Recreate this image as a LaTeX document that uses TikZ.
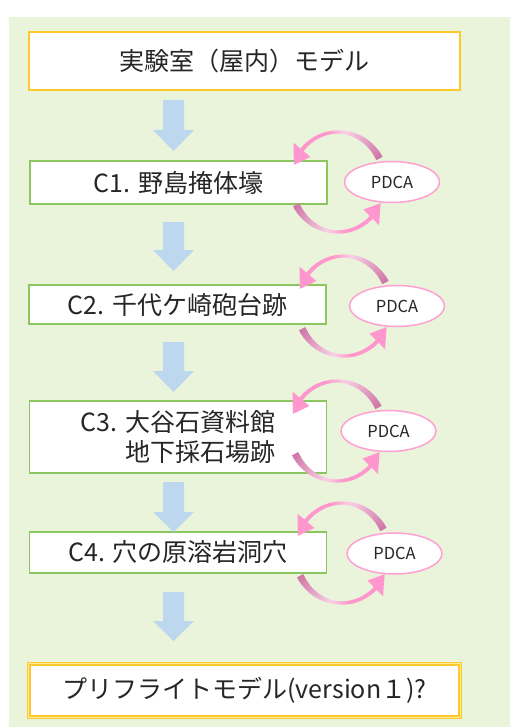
\documentclass[tikz,border=0pt]{standalone}
\usepackage{fontspec}
\setmainfont{Noto Sans CJK JP}
\usetikzlibrary{shapes.geometric}
\definecolor{bggreen}{RGB}{233,244,219}
\definecolor{boxgreen}{RGB}{140,198,96}
\definecolor{gold}{RGB}{255,200,45}
\definecolor{paleyellow}{RGB}{255,236,150}
\definecolor{arrblue}{RGB}{189,215,238}
\definecolor{pdcapink}{RGB}{255,160,210}
\definecolor{arrpink}{RGB}{255,150,205}
\definecolor{arrpale}{RGB}{250,208,230}
\definecolor{arrmauve}{RGB}{208,120,168}
\definecolor{txt}{RGB}{38,38,38}

\newcommand\blockarr[4]{% x, ytop, ybase, ytip
  \fill[arrblue] ({#1-10.5},#2) -- ({#1+10.5},#2) -- ({#1+10.5},#3) -- ({#1+20.5},#3) -- (#1,#4) -- ({#1-20.5},#3) -- ({#1-10.5},#3) -- cycle;}

\newcommand\curvarr[6]{% cx, cy, rx, ry, a0, a1 (body end)
  \foreach \i in {0,...,35}{%
    \pgfmathsetmacro\myt{\i/36}%
    \pgfmathsetmacro\angA{#5+(#6-#5)*\i/36}%
    \pgfmathsetmacro\angB{#5+(#6-#5)*(\i+1.4)/36}%
    \pgfmathsetmacro\myw{\myt<0.5 ? 7-8*\myt : 3+2*(\myt-0.5)}%
    \pgfmathsetmacro\pa{min(100,\myt/0.45*100)}%
    \pgfmathsetmacro\pb{max(0,min(100,(\myt-0.45)/0.2*100))}%
    \colorlet{midc}{arrpale!\pa!arrmauve}%
    \colorlet{segc}{arrpink!\pb!midc}%
    \draw[line width=\myw pt, segc] ({#1+#3*cos(\angA)},{#2-#4*sin(\angA)}) -- ({#1+#3*cos(\angB)},{#2-#4*sin(\angB)});
  }%
  \fill[arrpink] ({#1+(#3+11)*cos(#6)},{#2-(#4+11)*sin(#6)}) -- ({#1+(#3-11)*cos(#6)},{#2-(#4-11)*sin(#6)}) -- ({#1+#3*cos(#6+20)},{#2-#4*sin(#6+20)}) -- cycle;
}

\newcommand\pdcaloop[2]{% cx, cy
  \curvarr{#1}{#2}{47}{50}{28}{140}
  \curvarr{#1}{#2}{47}{50}{207}{315}
}

\tikzset{
  cbox/.style={draw=boxgreen, line width=1.5pt, fill=white, minimum width=297pt, inner sep=0pt, text=txt, font=\fontsize{25}{30.5}\selectfont},
  topbox/.style={draw=gold, line width=1.5pt, fill=white, minimum width=431pt, minimum height=58pt, inner sep=0pt, text=txt, font=\fontsize{25}{30}\selectfont},
  botbox/.style={draw=gold, line width=1.2pt, double=paleyellow, double distance=1.2pt, fill=white, minimum width=431.4pt, minimum height=53.4pt, inner sep=0pt, text=txt, font=\fontsize{25}{30}\selectfont},
  pdca/.style={ellipse, draw=pdcapink, line width=1.5pt, fill=white, minimum width=95pt, minimum height=41pt, inner sep=0pt, text=txt, font=\fontsize{16.5}{20}\selectfont}
}

\begin{document}
\begin{tikzpicture}[x=1pt,y=-1pt]
\useasboundingbox (0,0) rectangle (510,727);
\fill[white] (0,0) rectangle (510,727);
\fill[bggreen] (9,17) rectangle (510,727);

\node[topbox] (lab) at (244.5,61) {実験室（屋内）モデル};
\node[cbox, minimum height=43pt] (c1) at (178.5,182.5) {C1. 野島掩体壕};
\node[cbox, minimum height=39pt] (c2) at (177.5,304.5) {C2. 千代ケ崎砲台跡};
\node[cbox, minimum height=72pt, align=right] (c3) at (178,437) {C3. 大谷石資料館\\地下採石場跡};
\node[cbox, minimum height=41pt] (c4) at (178,552.5) {C4. 穴の原溶岩洞穴};
\node[botbox] (pre) at (244.5,690.5) {プリフライトモデル(version１)?};

\blockarr{173.5}{100}{130}{151}
\blockarr{173.5}{222}{250}{271}
\blockarr{173.5}{342}{371}{392}
\blockarr{173.5}{482}{512}{532}
\blockarr{173.5}{592}{621}{641}

\node[pdca] (p1) at (392,182) {PDCA};
\node[pdca] (p2) at (397,306) {PDCA};
\node[pdca] (p3) at (388.5,431) {PDCA};
\node[pdca] (p4) at (394.5,553.5) {PDCA};

\pdcaloop{338}{182}
\pdcaloop{344}{306}
\pdcaloop{337}{431}
\pdcaloop{342}{553}
\end{tikzpicture}
\end{document}
